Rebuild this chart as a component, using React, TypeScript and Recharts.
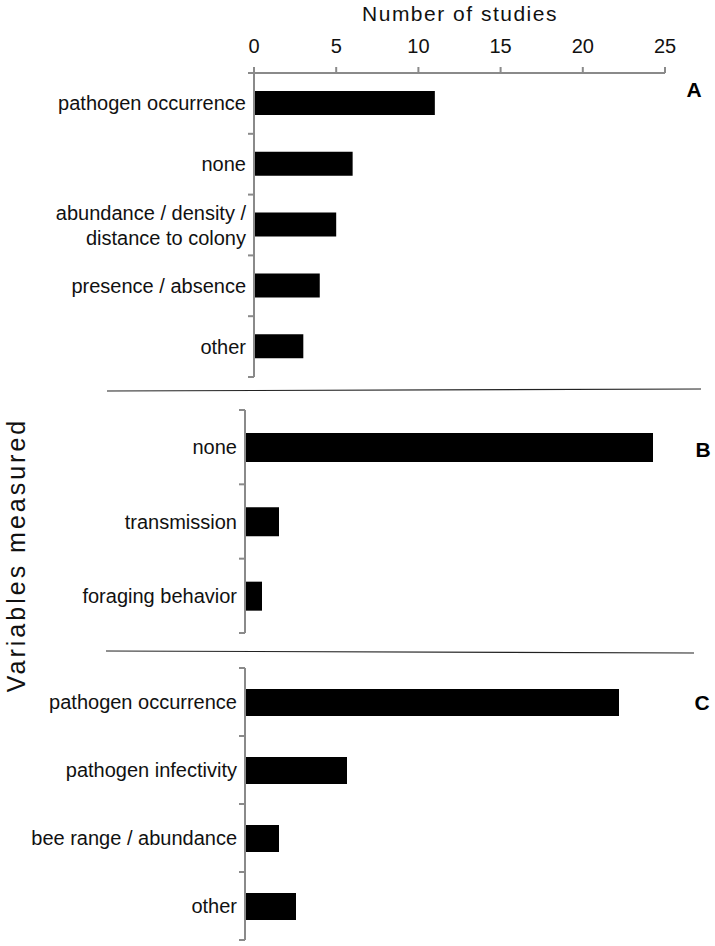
import React from "react";
import { BarChart, Bar, XAxis, YAxis } from "recharts";

// panel A: pathogen data
const categoriesA = [
  "pathogen occurrence",
  "none",
  "abundance / density /\ndistance to colony",
  "presence / absence",
  "other",
];
const studiesA = [11, 6, 5, 4, 3];

// panel B: transmission
const categoriesB = ["none", "transmission", "foraging behavior"];
const studiesB = [24, 2, 1];

// panel C: bee / pathogen
const categoriesC = [
  "pathogen occurrence",
  "pathogen infectivity",
  "bee range / abundance",
  "other",
];
const studiesC = [22, 6, 2, 3];

const studyTicks = [0, 5, 10, 15, 20, 25];

const FONT = "'Liberation Sans', Arial, Helvetica, sans-serif";
const AXIS_GREY = "#8a8a8a";
const TICK_MARGIN = 8;

const toRows = (cats: string[], vals: number[]) =>
  cats.map((c, i) => ({ category: c, studies: vals[i] }));

const dataA = toRows(categoriesA, studiesA);
const dataB = toRows(categoriesB, studiesB);
const dataC = toRows(categoriesC, studiesC);

function CategoryTick(props: any) {
  const { x, y, payload, count } = props;
  const half = payload?.offset ?? 0;
  const axisX = x + TICK_MARGIN;
  const lines = String(payload.value).split("\n");
  const lineH = 25;
  const startDy = -((lines.length - 1) * lineH) / 2;
  const isLast = payload.index === count - 1;
  return (
    <g>
      <line x1={axisX - 6} x2={axisX} y1={y - half} y2={y - half} stroke={AXIS_GREY} strokeWidth={2} />
      {isLast && (
        <line x1={axisX - 6} x2={axisX} y1={y + half} y2={y + half} stroke={AXIS_GREY} strokeWidth={2} />
      )}
      <text x={x} y={y} textAnchor="end" fontSize={20} fontFamily={FONT} fill="#111">
        {lines.map((l, i) => (
          <tspan key={i} x={x} dy={i === 0 ? startDy + 7 : lineH}>
            {l}
          </tspan>
        ))}
      </text>
    </g>
  );
}

function Panel({
  data,
  width,
  height,
  margin,
  yWidth,
  barSize,
  showTop,
}: {
  data: { category: string; studies: number }[];
  width: number;
  height: number;
  margin: { top: number; right: number; bottom: number; left: number };
  yWidth: number;
  barSize: number;
  showTop?: boolean;
}) {
  return (
    <BarChart layout="vertical" width={width} height={height} data={data} margin={margin}>
      <XAxis
        type="number"
        orientation="top"
        domain={[0, 25]}
        ticks={studyTicks}
        hide={!showTop}
        height={40}
        tickSize={6}
        tickMargin={14}
        tick={{ fill: "#111", fontSize: 20, fontFamily: FONT }}
        axisLine={{ stroke: AXIS_GREY, strokeWidth: 2 }}
        tickLine={{ stroke: AXIS_GREY, strokeWidth: 2 }}
        interval={0}
      />
      <YAxis
        type="category"
        dataKey="category"
        width={yWidth}
        tickSize={0}
        tickMargin={TICK_MARGIN}
        tickLine={false}
        axisLine={{ stroke: AXIS_GREY, strokeWidth: 2 }}
        interval={0}
        tick={(p: any) => <CategoryTick {...p} count={data.length} />}
      />
      <Bar dataKey="studies" fill="#000" barSize={barSize} isAnimationActive={false} />
    </BarChart>
  );
}

export default function App() {
  return (
    <div
      style={{
        position: "absolute",
        left: 0,
        top: 0,
        width: 715,
        height: 946,
        background: "#fff",
        fontFamily: FONT,
      }}
    >
      <div style={{ position: "absolute", left: 0, top: 0 }}>
        <Panel
          data={dataA}
          width={715}
          height={390}
          margin={{ top: 33, right: 50, bottom: 13, left: 0 }}
          yWidth={254}
          barSize={24}
          showTop
        />
      </div>
      <div style={{ position: "absolute", left: 0, top: 400 }}>
        <Panel
          data={dataB}
          width={715}
          height={240}
          margin={{ top: 10, right: 45, bottom: 7, left: 0 }}
          yWidth={245}
          barSize={29}
        />
      </div>
      <div style={{ position: "absolute", left: 0, top: 660 }}>
        <Panel
          data={dataC}
          width={715}
          height={286}
          margin={{ top: 8, right: 45, bottom: 6, left: 0 }}
          yWidth={245}
          barSize={27}
        />
      </div>
      <svg
        width={715}
        height={946}
        style={{ position: "absolute", left: 0, top: 0, pointerEvents: "none" }}
      >
        <text x={460} y={21} textAnchor="middle" fontSize={21} letterSpacing={1.5} fontFamily={FONT} fill="#111">
          Number of studies
        </text>
        <text
          transform="translate(25,555) rotate(-90)"
          textAnchor="middle"
          fontSize={25}
          letterSpacing={3}
          fontFamily={FONT}
          fill="#111"
        >
          Variables measured
        </text>
        <line x1={107} x2={701} y1={391} y2={389} stroke="#222" strokeWidth={1.2} />
        <line x1={106} x2={694} y1={651} y2={653} stroke="#222" strokeWidth={1.2} />
        <text x={694} y={97} textAnchor="middle" fontSize={21} fontWeight="bold" fontFamily={FONT} fill="#000">
          A
        </text>
        <text x={703} y={457} textAnchor="middle" fontSize={21} fontWeight="bold" fontFamily={FONT} fill="#000">
          B
        </text>
        <text x={702} y={710} textAnchor="middle" fontSize={21} fontWeight="bold" fontFamily={FONT} fill="#000">
          C
        </text>
      </svg>
    </div>
  );
}
